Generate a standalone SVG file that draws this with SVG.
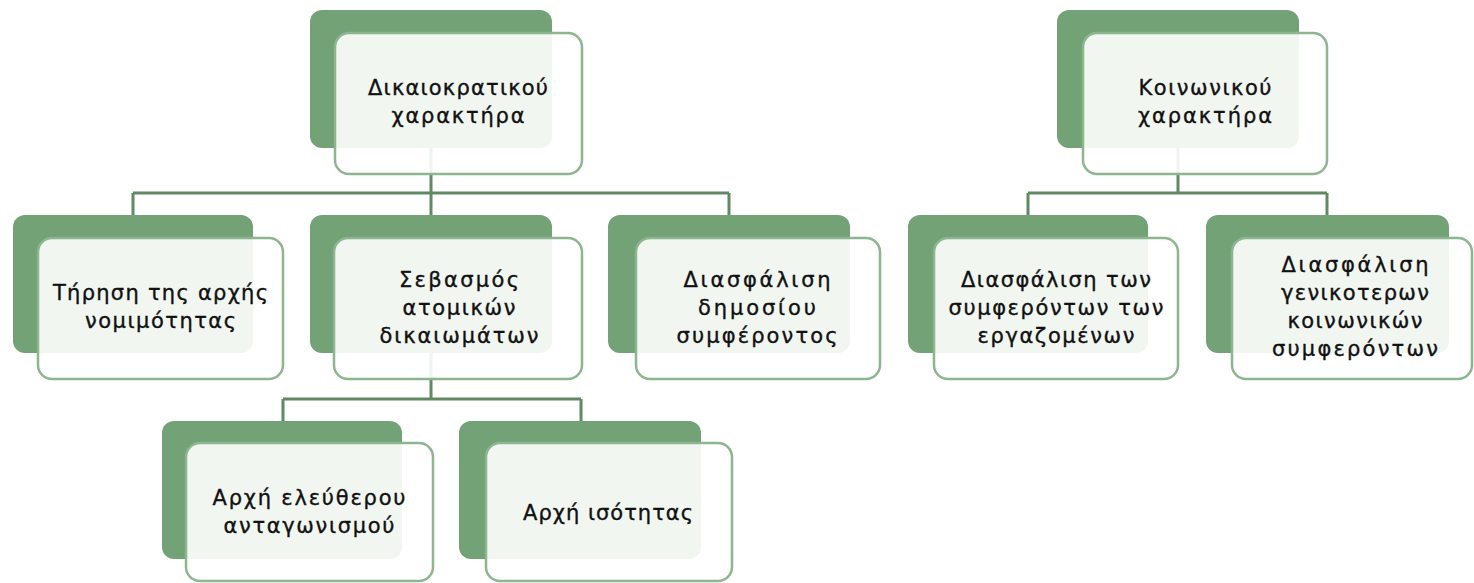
<svg xmlns="http://www.w3.org/2000/svg" width="1474" height="583" viewBox="0 0 1474 583">
<style>
.back{fill:#72a276;}
.front{fill:#ffffff;fill-opacity:0.9;stroke:#8db590;stroke-width:2.5;}
.conn{fill:none;stroke:#5f8a63;stroke-width:3;}
.t{font-family:"DejaVu Sans","Noto Sans",sans-serif;font-size:21px;fill:#111111;text-anchor:middle;stroke:#111111;stroke-width:0.35;}
</style>
<rect width="1474" height="583" fill="#ffffff"/>
<g id="connectors">
<path class="conn" d="M431 148V193M133 193H729M133 193V215M431 193V215M729 193V215"/>
<path class="conn" d="M1178 148V193M1028 193H1327M1028 193V215M1327 193V215"/>
<path class="conn" d="M431 353V399M283 399H581M283 399V421M581 399V421"/>
</g>
<g id="n1">
<rect class="back" x="310" y="10" width="242" height="138" rx="12"/>
<rect class="front" x="335" y="33" width="247" height="141" rx="14"/>
<text class="t"><tspan x="458" y="95" textLength="180" lengthAdjust="spacing">Δικαιοκρατικού</tspan><tspan x="458" y="123" textLength="133" lengthAdjust="spacing">χαρακτήρα</tspan></text>
</g>
<g id="n2">
<rect class="back" x="1057" y="10" width="242" height="138" rx="12"/>
<rect class="front" x="1083" y="33" width="244" height="141" rx="14"/>
<text class="t"><tspan x="1205" y="95" textLength="133" lengthAdjust="spacing">Κοινωνικού</tspan><tspan x="1205" y="123" textLength="134" lengthAdjust="spacing">χαρακτήρα</tspan></text>
</g>
<g id="n3">
<rect class="back" x="13" y="215" width="240" height="138" rx="12"/>
<rect class="front" x="38" y="238" width="245" height="141" rx="14"/>
<text class="t"><tspan x="160.5" y="300" textLength="215" lengthAdjust="spacing">Τήρηση της αρχής</tspan><tspan x="160.5" y="328" textLength="151" lengthAdjust="spacing">νομιμότητας</tspan></text>
</g>
<g id="n4">
<rect class="back" x="310" y="215" width="242" height="138" rx="12"/>
<rect class="front" x="334" y="238" width="248" height="141" rx="14"/>
<text class="t"><tspan x="459" y="287" textLength="120" lengthAdjust="spacing">Σεβασμός</tspan><tspan x="459" y="315" textLength="113" lengthAdjust="spacing">ατομικών</tspan><tspan x="459" y="343" textLength="159" lengthAdjust="spacing">δικαιωμάτων</tspan></text>
</g>
<g id="n5">
<rect class="back" x="608" y="215" width="242" height="138" rx="12"/>
<rect class="front" x="636" y="238" width="244" height="141" rx="14"/>
<text class="t"><tspan x="757" y="287" textLength="147" lengthAdjust="spacing">Διασφάλιση</tspan><tspan x="757" y="315" textLength="118" lengthAdjust="spacing">δημοσίου</tspan><tspan x="757" y="343" textLength="161" lengthAdjust="spacing">συμφέροντος</tspan></text>
</g>
<g id="n6">
<rect class="back" x="908" y="215" width="240" height="138" rx="12"/>
<rect class="front" x="934" y="238" width="244" height="141" rx="14"/>
<text class="t"><tspan x="1056" y="287" textLength="190" lengthAdjust="spacing">Διασφάλιση των</tspan><tspan x="1056" y="315" textLength="215" lengthAdjust="spacing">συμφερόντων των</tspan><tspan x="1056" y="343" textLength="157" lengthAdjust="spacing">εργαζομένων</tspan></text>
</g>
<g id="n7">
<rect class="back" x="1206" y="215" width="243" height="138" rx="12"/>
<rect class="front" x="1232" y="238" width="240" height="141" rx="14"/>
<text class="t"><tspan x="1355" y="272" textLength="147" lengthAdjust="spacing">Διασφάλιση</tspan><tspan x="1355" y="300" textLength="148" lengthAdjust="spacing">γενικοτερων</tspan><tspan x="1355" y="328" textLength="135" lengthAdjust="spacing">κοινωνικών</tspan><tspan x="1355" y="356" textLength="166" lengthAdjust="spacing">συμφερόντων</tspan></text>
</g>
<g id="n8">
<rect class="back" x="162" y="421" width="240" height="138" rx="12"/>
<rect class="front" x="186" y="443" width="247" height="138" rx="14"/>
<text class="t"><tspan x="309" y="505" textLength="193" lengthAdjust="spacing">Αρχή ελεύθερου</tspan><tspan x="309" y="533" textLength="171" lengthAdjust="spacing">ανταγωνισμού</tspan></text>
</g>
<g id="n9">
<rect class="back" x="459" y="421" width="242" height="138" rx="12"/>
<rect class="front" x="486" y="443" width="246" height="138" rx="14"/>
<text class="t"><tspan x="608" y="520" textLength="170" lengthAdjust="spacing">Αρχή ισότητας</tspan></text>
</g>
</svg>
